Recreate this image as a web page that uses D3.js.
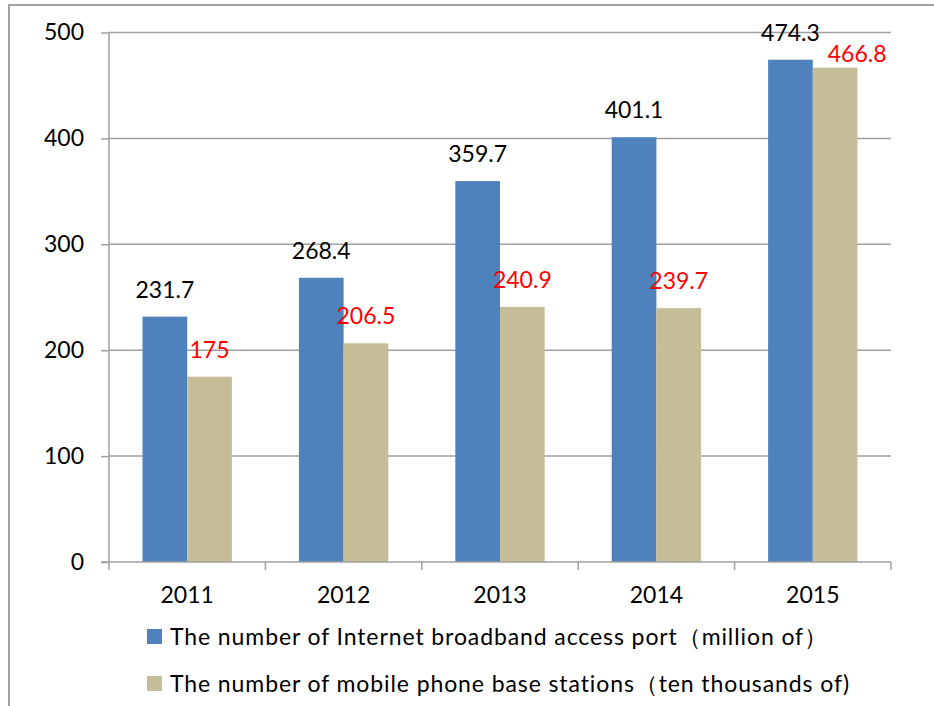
<!DOCTYPE html>
<html>
<head>
<meta charset="utf-8">
<script src="https://cdn.jsdelivr.net/npm/d3@7"></script>
<style>
  html, body { margin: 0; padding: 0; background: #fff; }
  svg { display: block; }
  text { font-family: Lato, "Noto Sans", sans-serif; }
</style>
</head>
<body>
<svg id="chart" width="934" height="706"></svg>
<script>
// Years on the category axis
const years = ["2011", "2012", "2013", "2014", "2015"];
// Internet broadband access ports (million)
const broadband = [231.7, 268.4, 359.7, 401.1, 474.3];
// Mobile phone base stations (ten thousand)
const baseStations = [175, 206.5, 240.9, 239.7, 466.8];
// Value axis ticks
const yTicks = [0, 100, 200, 300, 400, 500];
// Legend entries
const seriesNames = [
  "The number of Internet broadband access port\uFF08million of\uFF09",
  "The number of mobile phone base stations\uFF08ten thousands of)"
];
const seriesColors = ["#4F81BD", "#C4BD97"];
const labelColors = ["#000000", "#FF0000"];

const svg = d3.select("#chart");
const W = 934, H = 706;
const plot = { left: 109, right: 891, top: 32.5, bottom: 562 };
const gridColor = "#A0A0A0";
const fontSize = 23;

// Outer chart frame
svg.append("path")
  .attr("d", `M9,${H} V5 H${W}`)
  .attr("fill", "none")
  .attr("stroke", gridColor)
  .attr("stroke-width", 2);

const x = d3.scaleBand().domain(years).range([plot.left, plot.right]).paddingInner(0).paddingOuter(0);
const xInner = d3.scaleBand().domain([0, 1]).range([0, x.bandwidth()]).paddingInner(0).paddingOuter(0.75);
const y = d3.scaleLinear().domain([0, 500]).range([plot.bottom, plot.top]);

// Horizontal gridlines
svg.append("g")
  .selectAll("line")
  .data(yTicks.filter(d => d > 0))
  .join("line")
  .attr("x1", plot.left).attr("x2", plot.right)
  .attr("y1", d => y(d)).attr("y2", d => y(d))
  .attr("stroke", gridColor).attr("stroke-width", 1.5);

// Bars
const groups = svg.append("g")
  .selectAll("g")
  .data(years)
  .join("g")
  .attr("transform", d => `translate(${x(d)},0)`);

const seriesData = [broadband, baseStations];
groups.selectAll("rect")
  .data((d, i) => seriesData.map((s, k) => ({ k, v: s[i] })))
  .join("rect")
  .attr("x", d => xInner(d.k))
  .attr("width", xInner.bandwidth())
  .attr("y", d => y(d.v))
  .attr("height", d => plot.bottom - y(d.v))
  .attr("fill", d => seriesColors[d.k]);

// Y axis
const yAxis = d3.axisLeft(y).tickValues(yTicks).tickSize(8).tickPadding(17);
const gy = svg.append("g").attr("transform", `translate(${plot.left},0)`).call(yAxis);
gy.select(".domain").attr("stroke", gridColor).attr("stroke-width", 1.5)
  .attr("d", `M0,${plot.top}V${plot.bottom}`);
gy.selectAll(".tick line").attr("stroke", gridColor).attr("stroke-width", 1.5);
gy.selectAll(".tick text").attr("font-size", fontSize).attr("fill", "#000")
  .style("font-family", "Lato, 'Noto Sans', sans-serif");

// X axis with ticks on band boundaries
const gx = svg.append("g").attr("transform", `translate(0,${plot.bottom})`);
gx.append("line").attr("x1", plot.left - 8).attr("x2", plot.right)
  .attr("stroke", gridColor).attr("stroke-width", 1.5);
gx.selectAll(".bt")
  .data(years.map(d => x(d)).concat([plot.right]))
  .join("line").attr("class", "bt")
  .attr("x1", d => d).attr("x2", d => d).attr("y1", 0).attr("y2", 8)
  .attr("stroke", gridColor).attr("stroke-width", 1.5);
gx.selectAll(".yl")
  .data(years)
  .join("text").attr("class", "yl")
  .attr("x", d => x(d) + x.bandwidth() / 2)
  .attr("y", 41)
  .attr("text-anchor", "middle")
  .attr("font-size", fontSize)
  .text(d => d);

// Value labels
const labels = svg.append("g");
years.forEach((yr, i) => {
  seriesData.forEach((s, k) => {
    const v = s[i];
    let cx = x(yr) + xInner(k) + xInner.bandwidth() / 2;
    let by = y(v) - 19;
    // keep the two tall 2015 labels from colliding
    if (k === 1 && v > 400) { cx += 22; by = y(v) - 6; }
    labels.append("text")
      .attr("x", cx).attr("y", by)
      .attr("text-anchor", "middle")
      .attr("font-size", fontSize)
      .attr("fill", labelColors[k])
      .text(v);
  });
});

// Legend
const legend = svg.append("g");
seriesNames.forEach((name, k) => {
  const base = 645 + k * 47;
  legend.append("rect")
    .attr("x", 147).attr("y", base - 16).attr("width", 15).attr("height", 15)
    .attr("fill", seriesColors[k]);
  legend.append("text")
    .attr("x", 170).attr("y", base)
    .attr("font-size", fontSize)
    .attr("letter-spacing", 0.9)
    .text(name);
});
</script>
</body>
</html>
